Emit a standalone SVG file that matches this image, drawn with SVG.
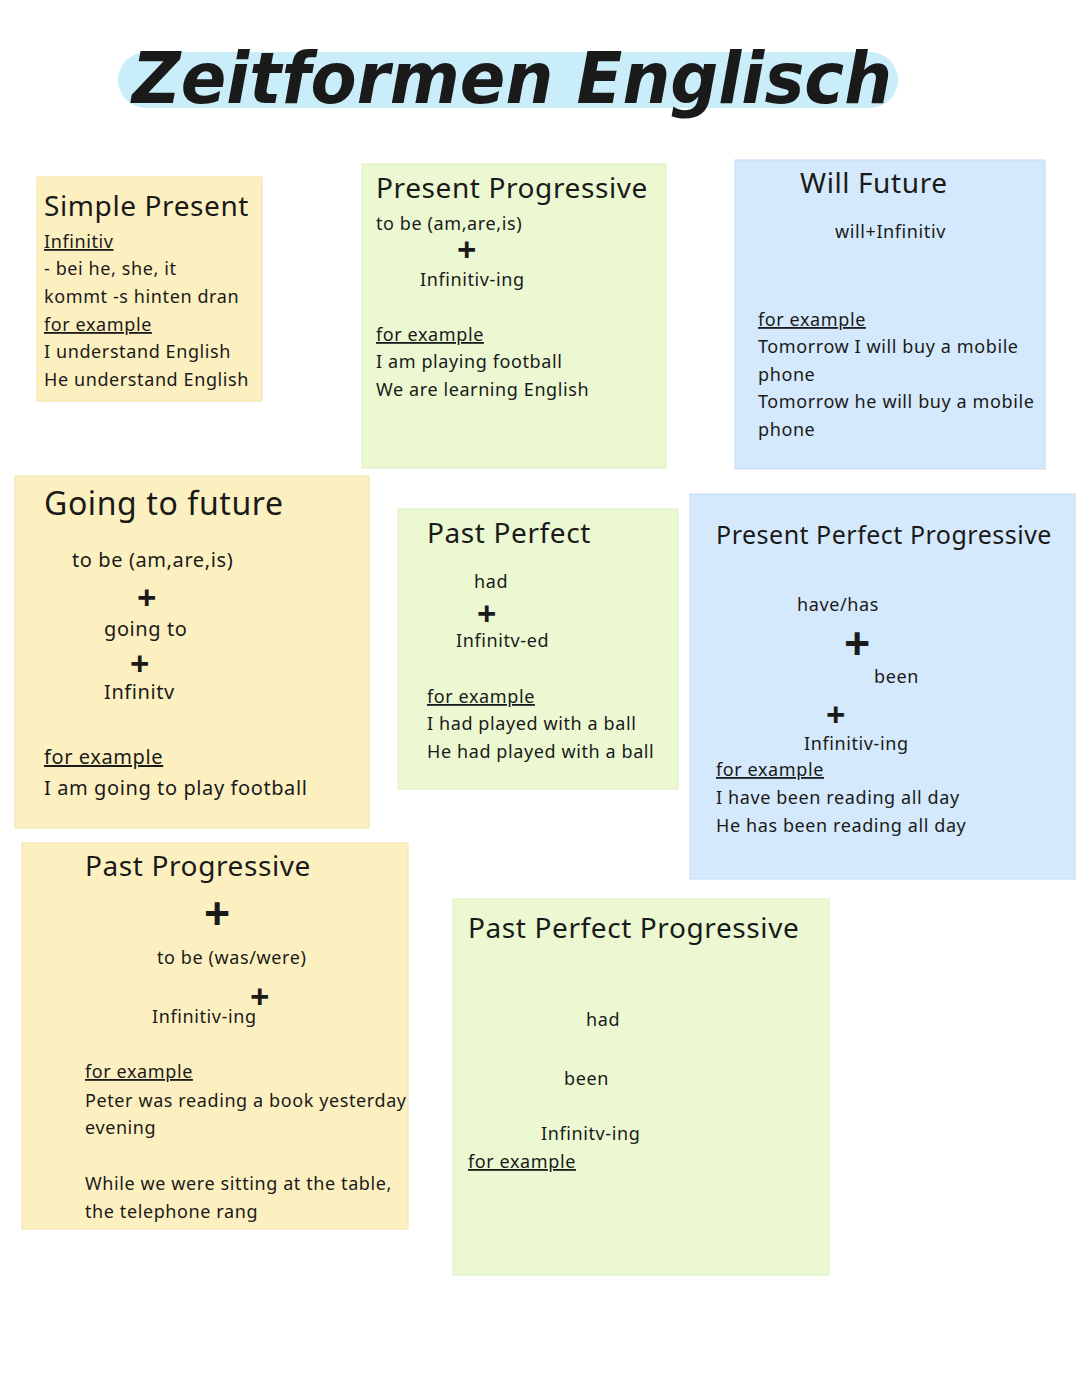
<svg xmlns="http://www.w3.org/2000/svg" width="1080" height="1394" viewBox="0 0 1080 1394">
<style>
text{font-family:"Noto Sans","DejaVu Sans",sans-serif;fill:#1a1a1a}
.h{font-size:28px;letter-spacing:0.6px}
.hs{font-size:25px;letter-spacing:0.5px}
.b{font-size:18px;letter-spacing:0.6px}
.u{font-size:18px;letter-spacing:0.6px;text-decoration:underline}
.p{font-size:34px;font-weight:bold}
.y{fill:#fdf0c0;stroke:#f3e2a8}
.g{fill:#ebf8d2;stroke:#dcefc0}
.bl{fill:#d4e9fb;stroke:#c2dcf3}
</style>
<rect width="1080" height="1394" fill="#fff"/>
<g id="title">
<rect x="118" y="52" width="780" height="56" rx="28" fill="#c9eefa"/>
<text x="512" y="103" text-anchor="middle" textLength="760" lengthAdjust="spacingAndGlyphs" style="font-family:'DejaVu Sans',sans-serif;font-size:72px;font-weight:bold;font-style:italic">Zeitformen Englisch</text>
</g>
<g id="simple-present">
<rect class="y" x="37" y="177" width="225" height="224"/>
<text class="h" x="44" y="216">Simple Present</text>
<text class="u" x="44" y="248">Infinitiv</text>
<text class="b" x="44" y="275">- bei he, she, it</text>
<text class="b" x="44" y="303">kommt -s hinten dran</text>
<text class="u" x="44" y="331">for example</text>
<text class="b" x="44" y="358">I understand English</text>
<text class="b" x="44" y="386">He understand English</text>
</g>
<g id="present-progressive">
<rect class="g" x="362" y="164" width="304" height="304"/>
<text class="h" x="376" y="198">Present Progressive</text>
<text class="b" x="376" y="230">to be (am,are,is)</text>
<text class="p" x="457" y="262">+</text>
<text class="b" x="420" y="286">Infinitiv-ing</text>
<text class="u" x="376" y="341">for example</text>
<text class="b" x="376" y="368">I am playing football</text>
<text class="b" x="376" y="396">We are learning English</text>
</g>
<g id="will-future">
<rect class="bl" x="735" y="160" width="310" height="309"/>
<text class="h" x="800" y="193">Will Future</text>
<text class="b" x="835" y="238">will+Infinitiv</text>
<text class="u" x="758" y="326">for example</text>
<text class="b" x="758" y="353">Tomorrow I will buy a mobile</text>
<text class="b" x="758" y="381">phone</text>
<text class="b" x="758" y="408">Tomorrow he will buy a mobile</text>
<text class="b" x="758" y="436">phone</text>
</g>
<g id="going-to-future">
<rect class="y" x="15" y="476" width="354" height="352"/>
<text class="h" x="44" y="515" style="font-size:32px">Going to future</text>
<text class="b" x="72" y="567" style="font-size:20px">to be (am,are,is)</text>
<text class="p" x="137" y="610">+</text>
<text class="b" x="104" y="636" style="font-size:20px">going to</text>
<text class="p" x="130" y="676">+</text>
<text class="b" x="104" y="699" style="font-size:20px">Infinitv</text>
<text class="u" x="44" y="764" style="font-size:20px">for example</text>
<text class="b" x="44" y="795" style="font-size:20px">I am going to play football</text>
</g>
<g id="past-perfect">
<rect class="g" x="398" y="509" width="280" height="280"/>
<text class="h" x="427" y="543">Past Perfect</text>
<text class="b" x="474" y="588">had</text>
<text class="p" x="477" y="626">+</text>
<text class="b" x="456" y="647">Infinitv-ed</text>
<text class="u" x="427" y="703">for example</text>
<text class="b" x="427" y="730">I had played with a ball</text>
<text class="b" x="427" y="758">He had played with a ball</text>
</g>
<g id="present-perfect-progressive">
<rect class="bl" x="690" y="494" width="385" height="385"/>
<text class="hs" x="716" y="544">Present Perfect Progressive</text>
<text class="b" x="797" y="611">have/has</text>
<text class="p" x="844" y="660" style="font-size:46px">+</text>
<text class="b" x="874" y="683">been</text>
<text class="p" x="826" y="727">+</text>
<text class="b" x="804" y="750">Infinitiv-ing</text>
<text class="u" x="716" y="776">for example</text>
<text class="b" x="716" y="804">I have been reading all day</text>
<text class="b" x="716" y="832">He has been reading all day</text>
</g>
<g id="past-progressive">
<rect class="y" x="22" y="843" width="386" height="386"/>
<text class="h" x="85" y="876">Past Progressive</text>
<text class="p" x="204" y="930" style="font-size:46px">+</text>
<text class="b" x="157" y="964">to be (was/were)</text>
<text class="b" x="152" y="1023">Infinitiv-ing</text>
<text class="p" x="250" y="1009">+</text>
<text class="u" x="85" y="1078">for example</text>
<text class="b" x="85" y="1107">Peter was reading a book yesterday</text>
<text class="b" x="85" y="1134">evening</text>
<text class="b" x="85" y="1190">While we were sitting at the table,</text>
<text class="b" x="85" y="1218">the telephone rang</text>
</g>
<g id="past-perfect-progressive">
<rect class="g" x="453" y="899" width="376" height="376"/>
<text class="h" x="468" y="938">Past Perfect Progressive</text>
<text class="b" x="586" y="1026">had</text>
<text class="b" x="564" y="1085">been</text>
<text class="b" x="541" y="1140">Infinitv-ing</text>
<text class="u" x="468" y="1168">for example</text>
</g>
</svg>
